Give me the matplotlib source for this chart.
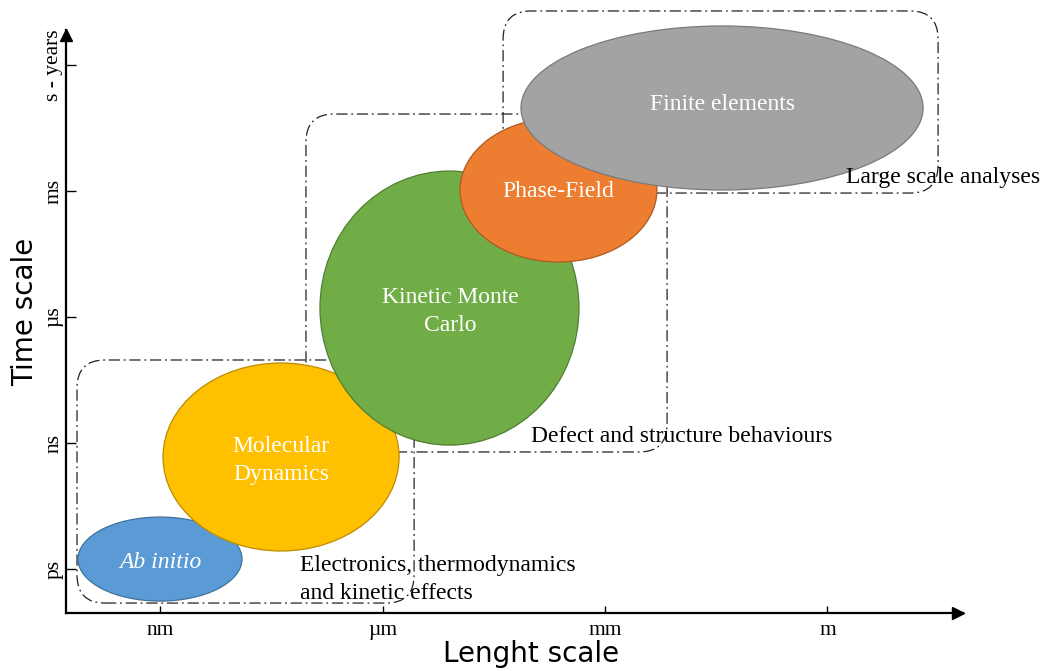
import numpy as np
import matplotlib.pyplot as plt
from matplotlib.patches import Ellipse, FancyBboxPatch

# scale units: x = decades from nm, y = decades-ish from ps
xTicks=[0,1,2,3]
xLabels=["nm","µm","mm","m"]
yTicks=[0,1,2,3,4]
yLabels=["ps","ns","µs","ms","s - years"]

methods=["Ab initio","Molecular\nDynamics","Kinetic Monte\nCarlo","Phase-Field","Finite elements"]
cx=[0.0,0.544,1.301,1.791,2.526]
cy=[0.079,0.889,2.071,3.008,3.659]
widths=[0.737,1.061,1.164,0.885,1.807]
heights=[0.667,1.492,2.175,1.143,1.302]
faces=["#5B9BD5","#FFC000","#70AD47","#ED7D31","#A3A3A3"]
edges=["#41719C","#BC8C00","#507E32","#AE5A21","#7A7A7A"]
labelX=[0.0,0.544,1.303,1.789,2.526]
labelY=[0.055,0.860,2.043,3.000,3.690]

groups=["Electronics, thermodynamics\nand kinetic effects","Defect and structure behaviours","Large scale analyses"]
boxX0=[-0.373,0.656,1.542]
boxX1=[1.142,2.279,3.497]
boxY0=[-0.270,0.929,2.984]
boxY1=[1.659,3.611,4.429]
groupX=[0.629,1.667,3.083]
groupY=[-0.080,1.055,3.111]

pxX=222.5
pxY=126.0

fig=plt.figure(figsize=(10.43,6.71),dpi=100)
ax=fig.add_axes([66/1043,(671-613)/671,(963-66)/1043,(613-30)/671])
ax.set_xlim(-0.4225,3.609)
ax.set_ylim(-0.349,4.278)

serif="Liberation Serif"

for x0,x1,y0,y1 in zip(boxX0,boxX1,boxY0,boxY1):
    r=28/pxX
    box=FancyBboxPatch((x0,y0),x1-x0,y1-y0,boxstyle=f"round,pad=0,rounding_size={r}",
                       mutation_aspect=pxX/pxY,fill=False,ec="#222222",lw=0.9,
                       ls=(0,(9,3,1.5,3)),clip_on=False,zorder=1)
    ax.add_patch(box)

for i in range(len(methods)):
    e=Ellipse((cx[i],cy[i]),widths[i],heights[i],fc=faces[i],ec=edges[i],lw=0.9,zorder=2+i,clip_on=False)
    ax.add_patch(e)
    style="italic" if i==0 else "normal"
    ax.text(labelX[i],labelY[i],methods[i],color="white",ha="center",va="center",
            family=serif,fontsize=17,style=style,linespacing=1.45,zorder=10)

for t,x,y in zip(groups,groupX,groupY):
    ax.text(x,y,t,ha="left",va="center",family=serif,fontsize=17,linespacing=1.45,zorder=11)

ax.spines['right'].set_visible(False)
ax.spines['top'].set_visible(False)
ax.spines['left'].set_linewidth(1.6)
ax.spines['bottom'].set_linewidth(1.6)
ax.plot(0.9939,0,">k",ms=8,transform=ax.transAxes,clip_on=False)
ax.plot(0,0.9906,"^k",ms=8,transform=ax.transAxes,clip_on=False)

ax.set_xticks(xTicks)
ax.set_xticklabels(xLabels,family=serif,fontsize=15.5)
ax.set_yticks(yTicks)
ax.set_yticklabels(yLabels,family=serif,fontsize=15.5,rotation=90,va="center")
ax.tick_params(axis="x",direction="in",length=5,width=1,pad=6)
ax.tick_params(axis="y",direction="in",length=7,width=1,pad=2)

ax.set_xlabel("Lenght scale",fontsize=20)
ax.set_ylabel("Time scale",fontsize=20)
ax.xaxis.set_label_coords(0.518,-0.0695)
ax.yaxis.set_label_coords(-0.0457,0.516)
ax.xaxis.label.set_va("center")
ax.yaxis.label.set_va("center")

plt.savefig("out.png",dpi=100)
